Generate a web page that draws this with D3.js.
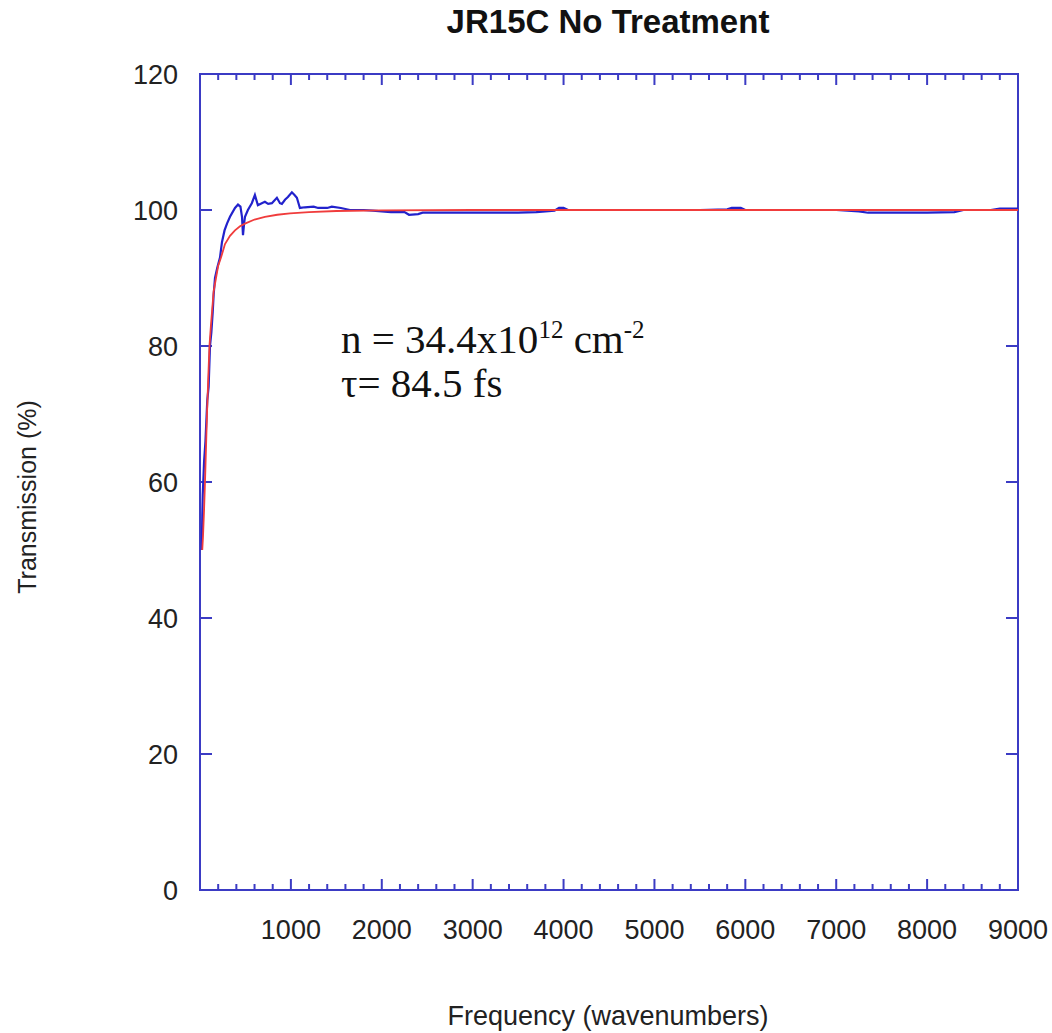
<!DOCTYPE html>
<html>
<head>
<meta charset="utf-8">
<style>
  body { margin: 0; background: #fff; }
  svg { display: block; font-family: Arial, 'Liberation Sans', sans-serif; }
  .tick-label { font-size: 27px; fill: #222; }
  .axis-title { font-size: 27px; fill: #222; }
  .title { font-size: 33px; font-weight: bold; fill: #111; }
  .note { font-family: 'Liberation Serif', 'Times New Roman', serif; font-size: 41px; fill: #111; }
</style>
</head>
<body>
<svg width="1052" height="1033"></svg>
<script src="https://d3js.org/d3.v7.min.js"></script>
<script>
// measured transmission (blue)
const measFreq = [20, 25, 30, 45, 60, 80, 95, 110, 125, 140, 150, 165, 190, 220, 242, 270, 297, 330, 385, 418, 445, 462, 473, 485, 495, 527, 570, 604, 637, 680, 714, 750, 791, 846, 880, 901, 935, 967, 1011, 1040, 1066, 1099, 1154, 1250, 1300, 1400, 1450, 1550, 1650, 1800, 1900, 2000, 2100, 2250, 2300, 2400, 2450, 2700, 3000, 3300, 3500, 3700, 3900, 3950, 4000, 4050, 4500, 5000, 5500, 5800, 5850, 5950, 6000, 6500, 7000, 7250, 7350, 7600, 8000, 8300, 8400, 8700, 8800, 9000];
const measT = [50, 55, 58, 63, 66, 72, 74, 80, 82, 85, 87.5, 90, 91.5, 93, 95.3, 97, 98, 99, 100.3, 100.8, 100.5, 99, 96.3, 98, 99, 100, 101, 102.2, 100.7, 101, 101.2, 100.9, 101, 101.8, 101, 100.9, 101.5, 101.9, 102.6, 102.2, 101.8, 100.3, 100.4, 100.5, 100.3, 100.3, 100.5, 100.3, 100, 100, 99.9, 99.8, 99.7, 99.7, 99.3, 99.4, 99.6, 99.6, 99.6, 99.6, 99.6, 99.7, 99.9, 100.3, 100.3, 100, 100, 100, 100, 100.1, 100.3, 100.3, 100, 100, 100, 99.8, 99.6, 99.6, 99.6, 99.7, 100, 100, 100.2, 100.2];

// fitted curve (red)
const fitFreq = [25, 33, 45, 55, 66, 77, 90, 104, 120, 132, 150, 176, 200, 231, 275, 330, 385, 440, 495, 600, 714, 850, 990, 1200, 1500, 2000, 3000, 4000, 5000, 6000, 7000, 8000, 9000];
const fitT = [50, 52, 56, 60, 65, 70, 75, 80, 83, 85, 88, 90, 91.8, 93, 95, 96.2, 97, 97.6, 98, 98.6, 99, 99.3, 99.5, 99.7, 99.85, 99.95, 100, 100, 100, 100, 100, 100, 100];

const xTicks = [1000, 2000, 3000, 4000, 5000, 6000, 7000, 8000, 9000];
const yTicks = [0, 20, 40, 60, 80, 100, 120];

const svg = d3.select("svg");
const mLeft = 200, mRight = 1018, mTop = 74, mBottom = 890;
const axisColor = "#3b3bc4";

const x = d3.scaleLinear().domain([0, 9000]).range([mLeft, mRight]);
const y = d3.scaleLinear().domain([0, 120]).range([mBottom, mTop]);

// frame
svg.append("rect")
  .attr("x", mLeft).attr("y", mTop)
  .attr("width", mRight - mLeft).attr("height", mBottom - mTop)
  .attr("fill", "none").attr("stroke", axisColor).attr("stroke-width", 2);

// x ticks (top and bottom, pointing inward)
const minor = d3.range(200, 9000, 200);
const tg = svg.append("g").attr("stroke", axisColor).attr("stroke-width", 2);
minor.forEach(v => {
  const len = v % 1000 === 0 ? 11 : 6;
  tg.append("line").attr("x1", x(v)).attr("x2", x(v)).attr("y1", mBottom).attr("y2", mBottom - len);
  tg.append("line").attr("x1", x(v)).attr("x2", x(v)).attr("y1", mTop).attr("y2", mTop + len);
});

// y ticks (left and right)
yTicks.slice(1, -1).forEach(v => {
  tg.append("line").attr("x1", mLeft).attr("x2", mLeft + 12).attr("y1", y(v)).attr("y2", y(v));
  tg.append("line").attr("x1", mRight).attr("x2", mRight - 12).attr("y1", y(v)).attr("y2", y(v));
});

// tick labels
svg.append("g").selectAll("text").data(xTicks).join("text")
  .attr("class", "tick-label")
  .attr("x", d => x(d)).attr("y", 939)
  .attr("text-anchor", "middle")
  .text(d => d);

svg.append("g").selectAll("text").data(yTicks).join("text")
  .attr("class", "tick-label")
  .attr("x", 178).attr("y", d => y(d) + 10)
  .attr("text-anchor", "end")
  .text(d => d);

// curves
const line = d3.line().x(d => x(d[0])).y(d => y(d[1]));
svg.append("path")
  .datum(d3.zip(measFreq, measT))
  .attr("fill", "none").attr("stroke", "#2222cc").attr("stroke-width", 2.2)
  .attr("d", line);
svg.append("path")
  .datum(d3.zip(fitFreq, fitT))
  .attr("fill", "none").attr("stroke", "#f03c3c").attr("stroke-width", 1.8)
  .attr("d", line);

// titles
svg.append("text").attr("class", "title")
  .attr("x", 608).attr("y", 33).attr("text-anchor", "middle")
  .text("JR15C No Treatment");

svg.append("text").attr("class", "axis-title")
  .attr("x", 608).attr("y", 1025).attr("text-anchor", "middle")
  .text("Frequency (wavenumbers)");

svg.append("text").attr("class", "axis-title")
  .style("font-size", "25px")
  .attr("transform", "translate(36,497) rotate(-90)")
  .attr("text-anchor", "middle")
  .text("Transmission (%)");

// annotation
const n1 = svg.append("text").attr("class", "note").attr("x", 341).attr("y", 353);
n1.append("tspan").text("n = 34.4x10");
n1.append("tspan").attr("dy", -15).style("font-size", "25px").text("12");
n1.append("tspan").attr("dy", 15).text(" cm");
n1.append("tspan").attr("dy", -15).style("font-size", "25px").text("-2");

svg.append("text").attr("class", "note").attr("x", 341).attr("y", 397)
  .text("\u03c4= 84.5 fs");
</script>
</body>
</html>
